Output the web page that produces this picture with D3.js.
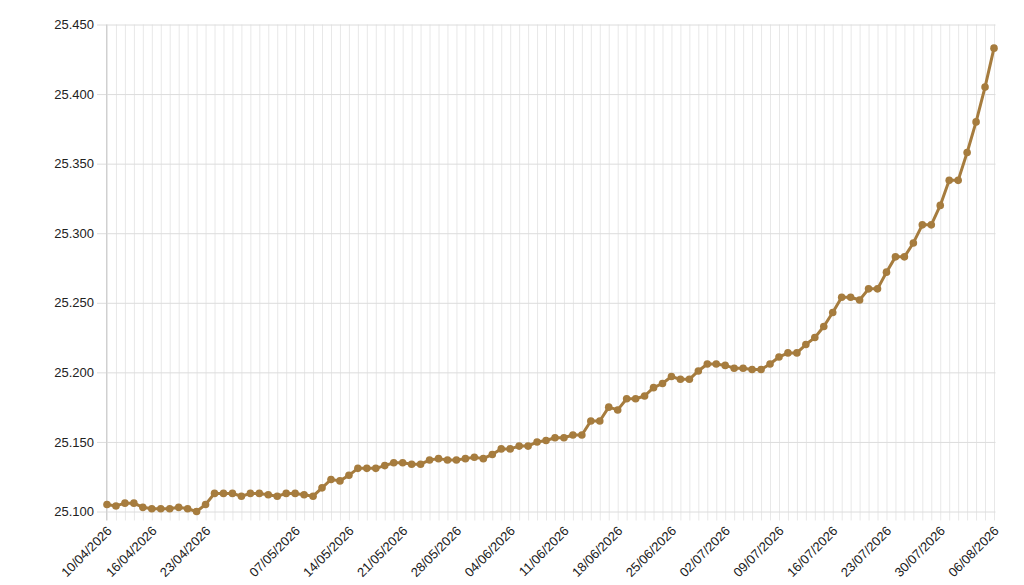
<!DOCTYPE html>
<html>
<head>
<meta charset="utf-8">
<script src="https://cdn.jsdelivr.net/npm/d3@7"></script>
<style>
  html, body { margin: 0; padding: 0; background: #fff; }
  svg { display: block; font-family: Arial, "Liberation Sans", sans-serif; }
</style>
</head>
<body>
<svg id="chart" width="1024" height="585"></svg>
<script>
// ---- data ----
const dates = [
  "10/04/2026","11/04/2026","13/04/2026","14/04/2026","15/04/2026","16/04/2026","17/04/2026","18/04/2026",
  "20/04/2026","21/04/2026","22/04/2026","23/04/2026","24/04/2026","25/04/2026","27/04/2026","28/04/2026","29/04/2026",
  "02/05/2026","04/05/2026","05/05/2026","06/05/2026","07/05/2026","08/05/2026","09/05/2026",
  "11/05/2026","12/05/2026","13/05/2026","14/05/2026","15/05/2026","16/05/2026",
  "18/05/2026","19/05/2026","20/05/2026","21/05/2026","22/05/2026","23/05/2026",
  "25/05/2026","26/05/2026","27/05/2026","28/05/2026","29/05/2026","30/05/2026",
  "01/06/2026","02/06/2026","03/06/2026","04/06/2026","05/06/2026","06/06/2026",
  "08/06/2026","09/06/2026","10/06/2026","11/06/2026","12/06/2026","13/06/2026",
  "15/06/2026","16/06/2026","17/06/2026","18/06/2026","19/06/2026","20/06/2026",
  "22/06/2026","23/06/2026","24/06/2026","25/06/2026","26/06/2026","27/06/2026",
  "29/06/2026","30/06/2026","01/07/2026","02/07/2026","03/07/2026","04/07/2026",
  "06/07/2026","07/07/2026","08/07/2026","09/07/2026","10/07/2026","11/07/2026",
  "13/07/2026","14/07/2026","15/07/2026","16/07/2026","17/07/2026","18/07/2026",
  "20/07/2026","21/07/2026","22/07/2026","23/07/2026","24/07/2026","25/07/2026",
  "27/07/2026","28/07/2026","29/07/2026","30/07/2026","31/07/2026","01/08/2026",
  "03/08/2026","04/08/2026","05/08/2026","06/08/2026"
];
const rates = [
  25105, 25104, 25106, 25106, 25103, 25102, 25102, 25102, 25103, 25102, 25100,
  25105, 25113, 25113, 25113, 25111, 25113, 25113, 25112, 25111, 25113,
  25113, 25112, 25111, 25117, 25123, 25122, 25126, 25131, 25131, 25131,
  25133, 25135, 25135, 25134, 25134, 25137, 25138, 25137, 25137, 25138,
  25139, 25138, 25141, 25145, 25145, 25147, 25147, 25150, 25151, 25153,
  25153, 25155, 25155, 25165, 25165, 25175, 25173, 25181, 25181, 25183,
  25189, 25192, 25197, 25195, 25195, 25201, 25206, 25206, 25205, 25203,
  25203, 25202, 25202, 25206, 25211, 25214, 25214, 25220, 25225, 25233,
  25243, 25254, 25254, 25252, 25260, 25260, 25272, 25283, 25283, 25293,
  25306, 25306, 25320, 25338, 25338, 25358, 25380, 25405, 25433
];
const xTickLabels = [
  "10/04/2026","16/04/2026","23/04/2026","07/05/2026","14/05/2026","21/05/2026","28/05/2026",
  "04/06/2026","11/06/2026","18/06/2026","25/06/2026","02/07/2026","09/07/2026","16/07/2026",
  "23/07/2026","30/07/2026","06/08/2026"
];
const yTicks = [25100, 25150, 25200, 25250, 25300, 25350, 25400, 25450];

(function () {
  const svg = d3.select("#chart");
  const mLeft = 107, mRight = 994, mTop = 24.5, mBottom = 511.5;
  const lineColor = "#a67c3e";
  const font = "Arial, 'Liberation Sans', sans-serif";

  const x = d3.scalePoint().domain(dates).range([mLeft, mRight]);
  const y = d3.scaleLinear().domain([25100, 25450]).range([mBottom, mTop]);

  const vn = d3.formatLocale({decimal: ",", thousands: ".", grouping: [3], currency: ["", " ₫"]});
  const fmt = vn.format(",");

  // vertical grid (one per data point), extended below baseline
  svg.append("g")
    .attr("transform", `translate(0,${mTop})`)
    .call(d3.axisBottom(x).tickSize(mBottom - mTop + 9).tickFormat(""))
    .call(g => g.select(".domain").remove())
    .call(g => g.selectAll("line").attr("stroke", "#e8e8e8").attr("stroke-width", 1));

  // horizontal grid + y labels
  svg.append("g")
    .attr("transform", "translate(97,0)")
    .call(d3.axisLeft(y).tickValues(yTicks).tickFormat(fmt).tickSizeInner(-(995.5 - 97)).tickPadding(4))
    .call(g => g.select(".domain").remove())
    .call(g => g.selectAll("line").attr("stroke", "#dcdcdc").attr("stroke-width", 1))
    .call(g => g.selectAll("text")
      .attr("x", -3)
      .attr("fill", "#222")
      .style("font-size", "13px")
      .style("font-family", font));

  // left axis line
  svg.append("line")
    .attr("x1", mLeft - 0.5).attr("x2", mLeft - 0.5)
    .attr("y1", mTop).attr("y2", mBottom + 9)
    .attr("stroke", "#d0d0d0");

  // x labels
  svg.append("g")
    .attr("transform", `translate(0,${mBottom})`)
    .call(d3.axisBottom(x).tickValues(xTickLabels).tickSize(0).tickPadding(0))
    .call(g => g.select(".domain").remove())
    .call(g => g.selectAll("text")
      .attr("fill", "#1a1a1a")
      .style("font-size", "13px")
      .style("font-family", font)
      .attr("text-anchor", "end")
      .attr("y", 0)
      .attr("dy", "0.35em")
      .attr("transform", "translate(2,17) rotate(-45)"));

  // line + points
  const line = d3.line().x((d, i) => x(dates[i])).y(d => y(d));
  svg.append("path")
    .datum(rates)
    .attr("fill", "none")
    .attr("stroke", lineColor)
    .attr("stroke-width", 3)
    .attr("stroke-linejoin", "round")
    .attr("d", line);

  svg.append("g")
    .selectAll("circle")
    .data(rates)
    .join("circle")
    .attr("cx", (d, i) => x(dates[i]))
    .attr("cy", d => y(d))
    .attr("r", 3.8)
    .attr("fill", lineColor);
})();
</script>
</body>
</html>
